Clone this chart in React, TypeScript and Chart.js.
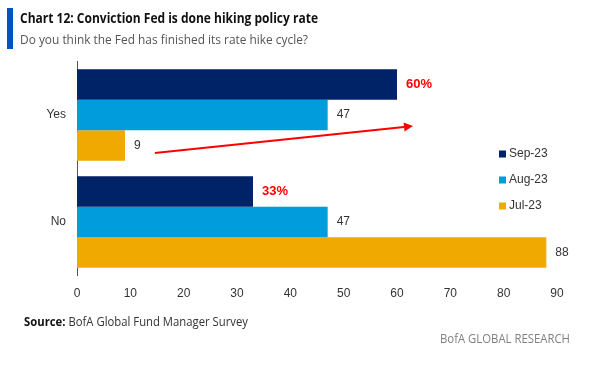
import React, { useEffect, useLayoutEffect, useRef } from "react";
import { Chart, registerables } from "chart.js";

Chart.register(...registerables);

const categories = ["Yes", "No"];
const seriesNames = ["Sep-23", "Aug-23", "Jul-23"];
const sep23 = [60, 33];
const aug23 = [47, 47];
const jul23 = [9, 88];
const sepLabels = ["60%", "33%"];
const augLabels = ["47", "47"];
const julLabels = ["9", "88"];
const xMin = 0;
const xMax = 90;
const xStep = 10;

const COLORS = ["#002266", "#009cdc", "#f0a900"];

function FitText(props: { width: number; style?: React.CSSProperties; children: React.ReactNode }) {
  const ref = useRef<HTMLSpanElement>(null);
  useLayoutEffect(() => {
    const el = ref.current;
    if (!el) return;
    el.style.transform = "none";
    const w = el.getBoundingClientRect().width;
    if (w > 0) el.style.transform = `scaleX(${props.width / w})`;
  }, []);
  return (
    <span
      ref={ref}
      style={{
        display: "inline-block",
        whiteSpace: "nowrap",
        transformOrigin: "left center",
        ...props.style,
      }}
    >
      {props.children}
    </span>
  );
}

const overlayPlugin = {
  id: "overlay",
  afterDatasetsDraw(chart: any) {
    const ctx = chart.ctx;
    const xs = chart.scales.x;
    const ys = chart.scales.y;
    const area = chart.chartArea;
    const labelSets = [sepLabels, augLabels, julLabels];
    ctx.save();
    // value labels
    chart.data.datasets.forEach((ds: any, di: number) => {
      const meta = chart.getDatasetMeta(di);
      meta.data.forEach((bar: any, i: number) => {
        const txt = labelSets[di][i];
        if (di === 0) {
          ctx.font = "bold 13px 'Liberation Sans', Arial, sans-serif";
          ctx.fillStyle = "#ff0000";
        } else {
          ctx.font = "12px 'Liberation Sans', Arial, sans-serif";
          ctx.fillStyle = "#333333";
        }
        ctx.textAlign = "left";
        ctx.textBaseline = "middle";
        ctx.fillText(txt, bar.x + 9, bar.y);
      });
    });
    // arrow annotation
    const x1 = xs.getPixelForValue(14.6);
    const y1 = ys.getPixelForValue(0.355);
    const x2 = xs.getPixelForValue(63);
    const y2 = ys.getPixelForValue(0.103);
    const ang = Math.atan2(y2 - y1, x2 - x1);
    const head = 9;
    ctx.strokeStyle = "#ff0000";
    ctx.fillStyle = "#ff0000";
    ctx.lineWidth = 2;
    ctx.beginPath();
    ctx.moveTo(x1, y1);
    ctx.lineTo(x2 - head * Math.cos(ang), y2 - head * Math.sin(ang));
    ctx.stroke();
    ctx.beginPath();
    ctx.moveTo(x2, y2);
    ctx.lineTo(x2 - head * Math.cos(ang) + 4.5 * Math.sin(ang), y2 - head * Math.sin(ang) - 4.5 * Math.cos(ang));
    ctx.lineTo(x2 - head * Math.cos(ang) - 4.5 * Math.sin(ang), y2 - head * Math.sin(ang) + 4.5 * Math.cos(ang));
    ctx.closePath();
    ctx.fill();
    // legend
    ctx.font = "12px 'Liberation Sans', Arial, sans-serif";
    ctx.textBaseline = "middle";
    ctx.textAlign = "left";
    chart.data.datasets.forEach((ds: any, di: number) => {
      const ly = area.top + 92.5 + di * 26;
      const lx = area.right - 58;
      ctx.fillStyle = ds.backgroundColor;
      ctx.fillRect(lx, ly - 3.5, 7, 7);
      ctx.fillStyle = "#333333";
      ctx.fillText(ds.label, lx + 10, ly);
    });
    ctx.restore();
  },
};

function BarChart() {
  const ref = useRef<HTMLCanvasElement>(null);
  useEffect(() => {
    if (!ref.current) return;
    const seriesData = [sep23, aug23, jul23];
    const chart = new Chart(ref.current, {
      type: "bar",
      data: {
        labels: categories,
        datasets: seriesNames.map((name, i) => ({
          label: name,
          data: seriesData[i],
          backgroundColor: COLORS[i],
          borderWidth: 0,
          categoryPercentage: 0.855,
          barPercentage: 1,
        })),
      },
      options: {
        indexAxis: "y",
        responsive: false,
        animation: false,
        events: [],
        layout: { padding: { left: 0, right: 43, top: 61.5, bottom: 60.5 } },
        plugins: {
          legend: { display: false },
          tooltip: { enabled: false },
          title: { display: false },
        },
        scales: {
          x: {
            type: "linear",
            min: xMin,
            max: xMax,
            grid: { display: false, drawTicks: false },
            border: { display: false },
            ticks: {
              stepSize: xStep,
              padding: 11,
              color: "#333333",
              font: { family: "'Liberation Sans', Arial, sans-serif", size: 12 },
            },
            afterFit: (s: any) => {
              s.height = 30;
            },
          },
          y: {
            type: "category",
            grid: { display: false, drawTicks: false },
            border: { display: true, color: "#555555", width: 1 },
            ticks: {
              padding: 11,
              color: "#333333",
              font: { family: "'Liberation Sans', Arial, sans-serif", size: 12 },
            },
            afterFit: (s: any) => {
              s.width = 77;
            },
          },
        },
      } as any,
      plugins: [overlayPlugin],
    });
    return () => chart.destroy();
  }, []);
  return (
    <canvas
      ref={ref}
      width={600}
      height={366}
      style={{ position: "absolute", left: 0, top: 0, width: 600, height: 366 }}
    />
  );
}

export default function App() {
  useEffect(() => {
    document.body.style.margin = "0";
  }, []);
  return (
    <div
      style={{
        position: "relative",
        width: 600,
        height: 366,
        background: "#ffffff",
        overflow: "hidden",
        fontFamily: "'Open Sans', sans-serif",
      }}
    >
      <BarChart />
      <div style={{ position: "absolute", left: 7, top: 8, width: 6, height: 41, background: "#0055c4" }} />
      <div style={{ position: "absolute", left: 20, top: 7, lineHeight: "20px" }}>
        <FitText width={298} style={{ fontSize: 14, fontWeight: 700, color: "#111111" }}>
          Chart 12: Conviction Fed is done hiking policy rate
        </FitText>
      </div>
      <div style={{ position: "absolute", left: 20, top: 29, lineHeight: "18px" }}>
        <FitText width={288} style={{ fontSize: 13.5, fontWeight: 400, color: "#555555" }}>
          Do you think the Fed has finished its rate hike cycle?
        </FitText>
      </div>
      <div style={{ position: "absolute", left: 24, top: 311, lineHeight: "18px" }}>
        <FitText width={224} style={{ fontSize: 12.5, color: "#333333" }}>
          <b style={{ color: "#111111" }}>Source:</b> BofA Global Fund Manager Survey
        </FitText>
      </div>
      <div style={{ position: "absolute", left: 440, top: 328, lineHeight: "18px" }}>
        <FitText width={130} style={{ fontSize: 12.5, color: "#808080" }}>
          BofA GLOBAL RESEARCH
        </FitText>
      </div>
    </div>
  );
}
